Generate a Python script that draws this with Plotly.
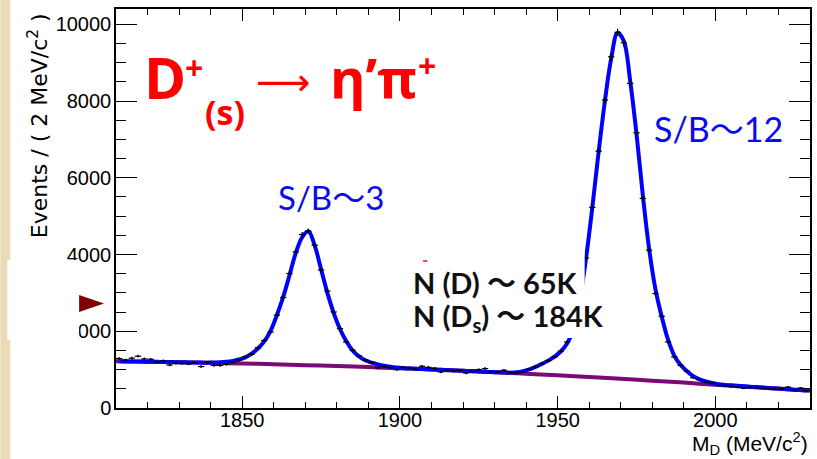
import numpy as np
import plotly.graph_objects as go

# ---------------- data ----------------
# histogram bin centres (2 MeV bins from 1810 to 2030)
mass_bins = np.arange(1811, 2030, 2)

events = [
    1290, 1250, 1300, 1350, 1280, 1270, 1200, 1230, 1120, 1170,   # 1811-1829
    1160, 1150, 1180, 1080, 1190, 1110, 1110, 1140, 1190, 1250,   # 1831-1849
    1330, 1400, 1570, 1760, 1980, 2420, 2880, 3505, 4070, 4520,   # 1851-1869
    4610, 4244, 3600, 3050, 2504, 2071, 1721, 1505, 1360, 1250,   # 1871-1889
    1190, 1044, 1080, 1050, 1001, 1060, 1040, 1010, 1088, 1060,   # 1891-1909
    1030, 939, 990, 965, 980, 913, 960, 1001, 1027, 950,          # 1911-1929
    940, 983, 930, 913, 939, 1010, 1070, 1160, 1230, 1330,        # 1931-1949
    1480, 1720, 2070, 2760, 3912, 5228, 6695, 8026, 9155, 9791,   # 1951-1969
    9520, 8461, 7173, 5462, 4113, 2984, 2392, 1721, 1330, 1114,   # 1971-1989
    960, 790, 740, 680, 650, 590, 580, 560, 540, 515,             # 1991-2009
    540, 525, 515, 500, 490, 505, 545, 470, 520, 450,             # 2011-2029
]

fit_total = [
    1217, 1215, 1213, 1211, 1208, 1206, 1203, 1201, 1198, 1195,
    1192, 1189, 1186, 1183, 1180, 1187, 1193, 1205, 1226, 1263,
    1319, 1415, 1551, 1737, 2012, 2418, 2894, 3459, 4044, 4450,
    4605, 4230, 3620, 3000, 2480, 2060, 1740, 1500, 1345, 1245,
    1183, 1137, 1101, 1075, 1054, 1038, 1027, 1020, 1014, 1008,
    1001, 994, 987, 980, 973, 966, 959, 951, 944, 937,
    932, 926, 922, 930, 960, 1008, 1072, 1148, 1235, 1340,
    1472, 1680, 2050, 2800, 3900, 5230, 6680, 8010, 9120, 9780,
    9560, 8520, 7150, 5550, 4150, 3100, 2380, 1780, 1360, 1120,
    960, 830, 745, 690, 650, 620, 603, 590, 578, 567,
    556, 545, 534, 523, 512, 501, 490, 478, 466, 454,
]

bkg_mass = [1810, 1820, 1830, 1840, 1850, 1860, 1870, 1880, 1890, 1900, 1910, 1920,
            1930, 1940, 1950, 1960, 1970, 1980, 1990, 2000, 2010, 2020, 2030]
bkg_values = [1218, 1206, 1193, 1178, 1161, 1140, 1117, 1093, 1066, 1036, 1005, 970,
              934, 895, 853, 809, 762, 712, 662, 605, 552, 500, 448]

x_range = [1810, 2030]
y_range = [0, 10400]

# ---------------- figure ----------------
W, H = 817, 459
ML, MR, MT, MB = 116, 5, 9, 51
PW, PH = W - ML - MR, H - MT - MB


def px(x):
    return (x - ML) / PW


def py(y):
    return (H - MB - y) / PH


fig = go.Figure()

fig.add_trace(go.Scatter(
    x=bkg_mass, y=bkg_values, mode="lines",
    line=dict(color="#7a0a74", width=4, shape="spline"),
    hoverinfo="skip", showlegend=False))

fig.add_trace(go.Scatter(
    x=mass_bins, y=fit_total, mode="lines",
    line=dict(color="#0000ff", width=4, shape="spline"),
    hoverinfo="skip", showlegend=False))

fig.add_trace(go.Scatter(
    x=mass_bins, y=events, mode="markers",
    marker=dict(color="black", size=2),
    error_y=dict(type="sqrt", width=0, thickness=1.2, color="black"),
    error_x=dict(type="constant", value=1, width=0, thickness=1.2, color="black"),
    showlegend=False))

tickfont = dict(family="Liberation Sans, Arial, sans-serif", size=20, color="black")

fig.update_layout(
    width=W, height=H,
    margin=dict(l=ML, r=MR, t=MT, b=MB),
    paper_bgcolor="white", plot_bgcolor="white",
    xaxis=dict(range=x_range, tick0=1850, dtick=50, ticks="inside", ticklen=12,
               tickwidth=1.3, tickcolor="black", showline=True, linecolor="black",
               linewidth=1.5, mirror="ticks", showgrid=False, zeroline=False,
               tickfont=tickfont, tickformat="d", ticklabelstandoff=-7,
               minor=dict(dtick=10, ticks="inside", ticklen=6, tickwidth=1.2,
                          tickcolor="black", showgrid=False)),
    yaxis=dict(range=y_range, tick0=0, dtick=2000, ticks="inside", ticklen=21,
               tickwidth=1.3, tickcolor="black", showline=True, linecolor="black",
               linewidth=1.5, mirror="ticks", showgrid=False, zeroline=False,
               tickfont=tickfont, tickformat="d", ticklabelstandoff=-1,
               minor=dict(dtick=500, ticks="inside", ticklen=10, tickwidth=1.2,
                          tickcolor="black", showgrid=False)),
)

shapes = [
    # parchment strip on the left edge
    dict(type="rect", xref="paper", yref="paper", x0=px(0), x1=px(10), y0=py(H), y1=py(0),
         fillcolor="#eadcb6", line=dict(width=0), layer="below"),
    # white box of the slide covering part of the axis label
    dict(type="rect", xref="paper", yref="paper", x0=px(7), x1=px(79), y0=py(340), y1=py(260),
         fillcolor="white", line=dict(width=0), layer="above"),
    # white text box behind the yields
    dict(type="rect", xref="paper", yref="paper", x0=px(405), x1=px(586), y0=py(338), y1=py(252),
         fillcolor="white", line=dict(width=0), layer="above"),
    # dark red pointer triangle
    dict(type="path", xref="paper", yref="paper",
         path=f"M {px(79)},{py(295)} L {px(104)},{py(303.5)} L {px(79)},{py(312)} Z",
         fillcolor="#800000", line=dict(width=0), layer="above"),
    # small red mark
    dict(type="line", xref="paper", yref="paper", x0=px(424), x1=px(428), y0=py(261), y1=py(261),
         line=dict(color="red", width=1.5), layer="above"),
]
fig.update_layout(shapes=shapes)

RED = "#ff0000"
BLUE = "#0a0af0"
slide_font = "'Open Sans', 'Noto Sans', 'Noto Sans CJK JP', sans-serif"
label_font = "Lato, 'Noto Sans', 'Noto Sans CJK JP', sans-serif"


def ann(text, x, y, size, color, family=slide_font, xanchor="left", angle=0):
    return dict(text=text, x=px(x), y=py(y), xref="paper", yref="paper",
                xanchor=xanchor, yanchor="middle", showarrow=False, textangle=angle,
                font=dict(family=family, size=size, color=color))


annotations = [
    ann("Events / ( 2 MeV/c<sup>2</sup> )", 38, 126, 22, "black",
        family="DejaVu Sans, sans-serif", xanchor="center", angle=-90),
    ann("M<sub>D</sub> (MeV/c<sup>2</sup>)", 812, 443, 21, "black",
        family="Liberation Sans, Arial, sans-serif", xanchor="right"),
    ann("<b>D</b>", 142, 77, 57, RED),
    ann("<b>+</b>", 183, 67, 32, RED),
    ann("<b>(s)</b>", 203, 112, 34, RED),
    ann("⟶", 254, 82, 38, RED, family="DejaVu Sans, sans-serif"),
    ann("<b>η’π</b>", 329, 77, 54, RED),
    ann("<b>+</b>", 417, 65, 32, RED),
    ann("S/B〜3", 276, 197, 33, BLUE, family=label_font),
    ann("S/B〜12", 654, 128, 34, BLUE, family=label_font),
    ann("<b>N (D) 〜 65K</b>", 412, 282, 29, "#111111", family=label_font),
    ann("<b>N (D<sub>s</sub>) 〜 184K</b>", 412, 317, 29, "#111111", family=label_font),
]
fig.update_layout(annotations=annotations)

fig.write_html("out.html", config={"displayModeBar": False},
               post_script="document.body.style.margin='0px';")
